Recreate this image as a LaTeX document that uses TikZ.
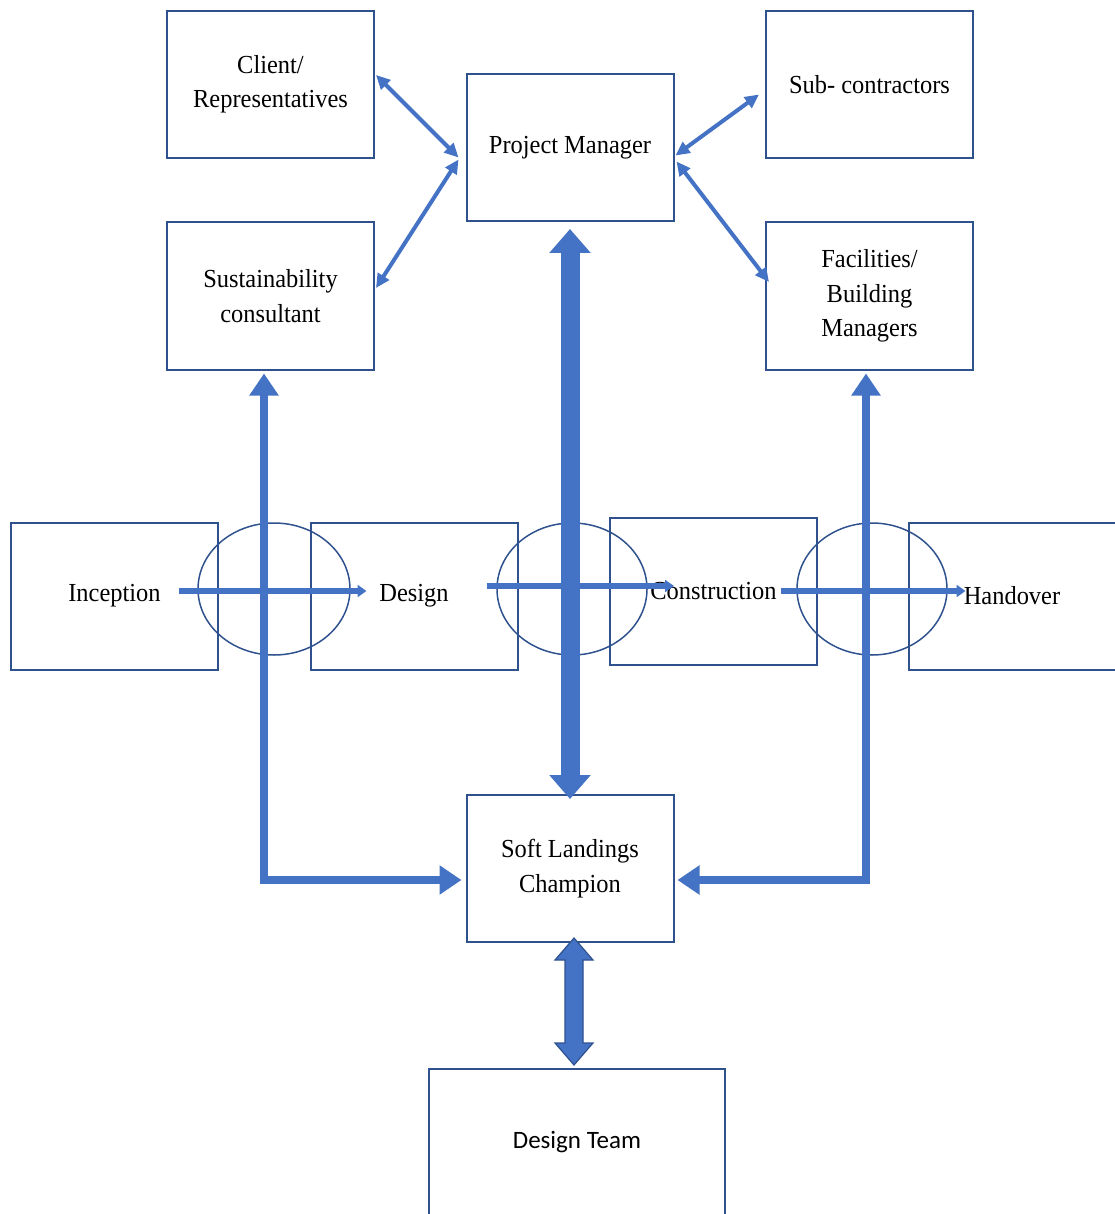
\documentclass[tikz,border=0pt]{standalone}
\usepackage{fontspec}
\setmainfont{Liberation Serif}[FakeStretch=0.94]
\newfontfamily\teamfont{Carlito}
\usetikzlibrary{arrows.meta,calc}
\definecolor{edgeblue}{HTML}{2F528F}
\definecolor{linkblue}{HTML}{4472C4}

\begin{document}
\begin{tikzpicture}[x=1pt,y=-1pt,
  box/.style={draw=edgeblue, line width=2pt, minimum width=207pt, minimum height=147pt,
              inner sep=0pt, align=center, font=\fontsize{26}{34.5}\selectfont},
  phase/.style={draw=edgeblue, line width=1.5pt},
  thinlink/.style={linkblue, line width=4pt,
              {Triangle[length=14pt,width=13pt]}-{Triangle[length=14pt,width=13pt]}},
  flowlink/.style={linkblue, line width=5.5pt, -{Triangle[length=9pt,width=12pt]}},
  heavylink/.style={linkblue, line width=8.5pt, line join=miter,
              {Triangle[length=22pt,width=28pt]}-{Triangle[length=22pt,width=28pt]}},
  trunklink/.style={linkblue, line width=19pt,
              {Triangle[length=24pt,width=40pt]}-{Triangle[length=24pt,width=40pt]}}
]
\useasboundingbox (0,0) rectangle (1114,1214);

% stakeholder boxes
\node[box] (client) at (270.5,84.5) {Client/\\Representatives};
\node[box] (pm)     at (570,147.5)  {Project Manager};
\node[box] (sub)    at (869.5,84.5) {Sub- contractors};
\node[box] (scons)  at (270.5,296)  {Sustainability\\consultant};
\node[box] (fac)    at (869.5,296)  {Facilities/\\Building\\Managers};

% project phases
\node[box] (inc)  at (114.5,596)  {Inception};
\node[box] (des)  at (414,596)    {Design};
\node[box] (con)  at (713.5,591.5){Construction};
\node[box] (hand) at (1012,596)   {Handover};

% champion and design team
\node[box] (slc) at (570,868.5) {Soft Landings\\Champion};
\node[box, minimum width=296pt, minimum height=146pt, font=\teamfont\fontsize{25}{30}\selectfont]
  (dt) at (577,1142) {Design Team};

% phase transition rings
\draw[phase] (274,589) ellipse [x radius=76pt, y radius=66pt];
\draw[phase] (572,589) ellipse [x radius=75pt, y radius=66pt];
\draw[phase] (872,589) ellipse [x radius=75pt, y radius=66pt];

% phase flow
\draw[flowlink] ($(inc.east)+(-40,-5)$) -- ($(des.west)+(57,-5)$);
\draw[flowlink] ($(des.east)+(-32,-10)$) -- ($(con.west)+(65,-5.5)$);
\draw[flowlink] ($(con.east)+(-37,-0.5)$) -- ($(hand.west)+(58,-5)$);

% project manager links
\draw[thinlink] ($(client.east)+(1,-9.5)$) -- ($(pm.west)+(-7,10)$);
\draw[thinlink] ($(scons.east)+(1,-8)$) -- ($(pm.west)+(-7,12)$);
\draw[thinlink] ($(pm.east)+(1,8)$) -- ($(sub.west)+(-6,10)$);
\draw[thinlink] ($(pm.east)+(2,14)$) -- ($(fac.west)+(4,-14)$);

% champion links
\coordinate (lbend) at (264,880);
\coordinate (rbend) at (866,880);
\draw[heavylink] ($(scons.south)+(-6.5,3)$) -- (lbend) -- ($(slc.west)+(-4,11.5)$);
\draw[heavylink] ($(fac.south)+(-3.5,3)$) -- (rbend) -- ($(slc.east)+(3,11.5)$);
\draw[trunklink] ($(pm.south)+(0,7)$) -- ($(slc.north)+(0,5)$);

% champion to design team block arrow
\coordinate (ta) at ($(slc.south)+(4,-5)$);
\coordinate (tb) at ($(dt.north)+(-3,-3)$);
\filldraw[fill=linkblue, draw=edgeblue, line width=1.2pt, line join=miter]
  (ta) -- ($(ta)+(19,22)$) -- ($(ta)+(9,22)$) -- ($(tb)+(9,-22)$) -- ($(tb)+(19,-22)$)
  -- (tb) -- ($(tb)+(-19,-22)$) -- ($(tb)+(-9,-22)$) -- ($(ta)+(-9,22)$)
  -- ($(ta)+(-19,22)$) -- cycle;
\end{tikzpicture}
\end{document}
